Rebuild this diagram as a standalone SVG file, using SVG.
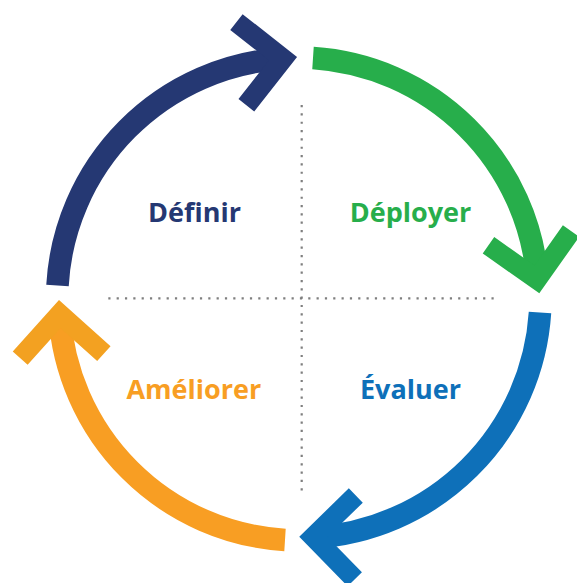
<svg xmlns="http://www.w3.org/2000/svg" xmlns:xlink="http://www.w3.org/1999/xlink" width="577" height="583" viewBox="0 0 577 583">
<style>
.arc{fill:none;stroke-width:22.5;stroke-linecap:butt}
.lbl{font-family:"Open Sans","Noto Sans","Liberation Sans",sans-serif;font-weight:700;font-size:27px;text-anchor:middle}
.dot{fill:none;stroke:#7f7f7f;stroke-width:2.2;stroke-dasharray:2.2 6.13}
.navy{stroke:#253873}.navyt{fill:#253873}
.green{stroke:#27AE4B}.greent{fill:#27AE4B}
.blue{stroke:#0E70B9}.bluet{fill:#0E70B9}
.orange{stroke:#F89E23}.oranget{fill:#F89E23}
.orange2{stroke:#F3A121}
</style>
<defs>
<path id="chev" d="M -56 -41.9 L -14.1 0 L -56 41.9" fill="none" stroke-width="20" stroke-linejoin="miter" stroke-linecap="butt"/>
</defs>
<rect width="577" height="583" fill="#ffffff"/>
<g id="grid">
<line class="dot" x1="108.3" y1="298.3" x2="497" y2="298.3"/>
<line class="dot" x1="301.7" y1="105" x2="301.7" y2="491"/>
</g>
<g id="connectors">
<path class="arc navy" d="M 57.5 285.5 A 241 241 0 0 1 283 58.5"/>
<use xlink:href="#chev" class="navy" transform="translate(297,57) rotate(-6.8)"/>
<path class="arc green" d="M 313 58 A 241 241 0 0 1 537.5 279.5"/>
<use xlink:href="#chev" class="green" transform="translate(539.3,293.3) rotate(80.2)"/>
<path class="arc blue" d="M 540 312.5 A 241 241 0 0 1 313.5 537.5"/>
<use xlink:href="#chev" class="blue" transform="translate(299.3,536.7) rotate(180.7)"/>
<path class="arc orange" d="M 285 540 A 241 241 0 0 1 59.5 314.5"/>
<use xlink:href="#chev" class="orange2" transform="translate(59,300) rotate(-93.1)"/>
</g>
<g id="definir"><text class="lbl navyt" x="194.5" y="221.7">Définir</text></g>
<g id="deployer"><text class="lbl greent" x="410.5" y="221.7">Déployer</text></g>
<g id="evaluer"><text class="lbl bluet" x="410.5" y="399">Évaluer</text></g>
<g id="ameliorer"><text class="lbl oranget" x="193.8" y="399">Améliorer</text></g>
</svg>
